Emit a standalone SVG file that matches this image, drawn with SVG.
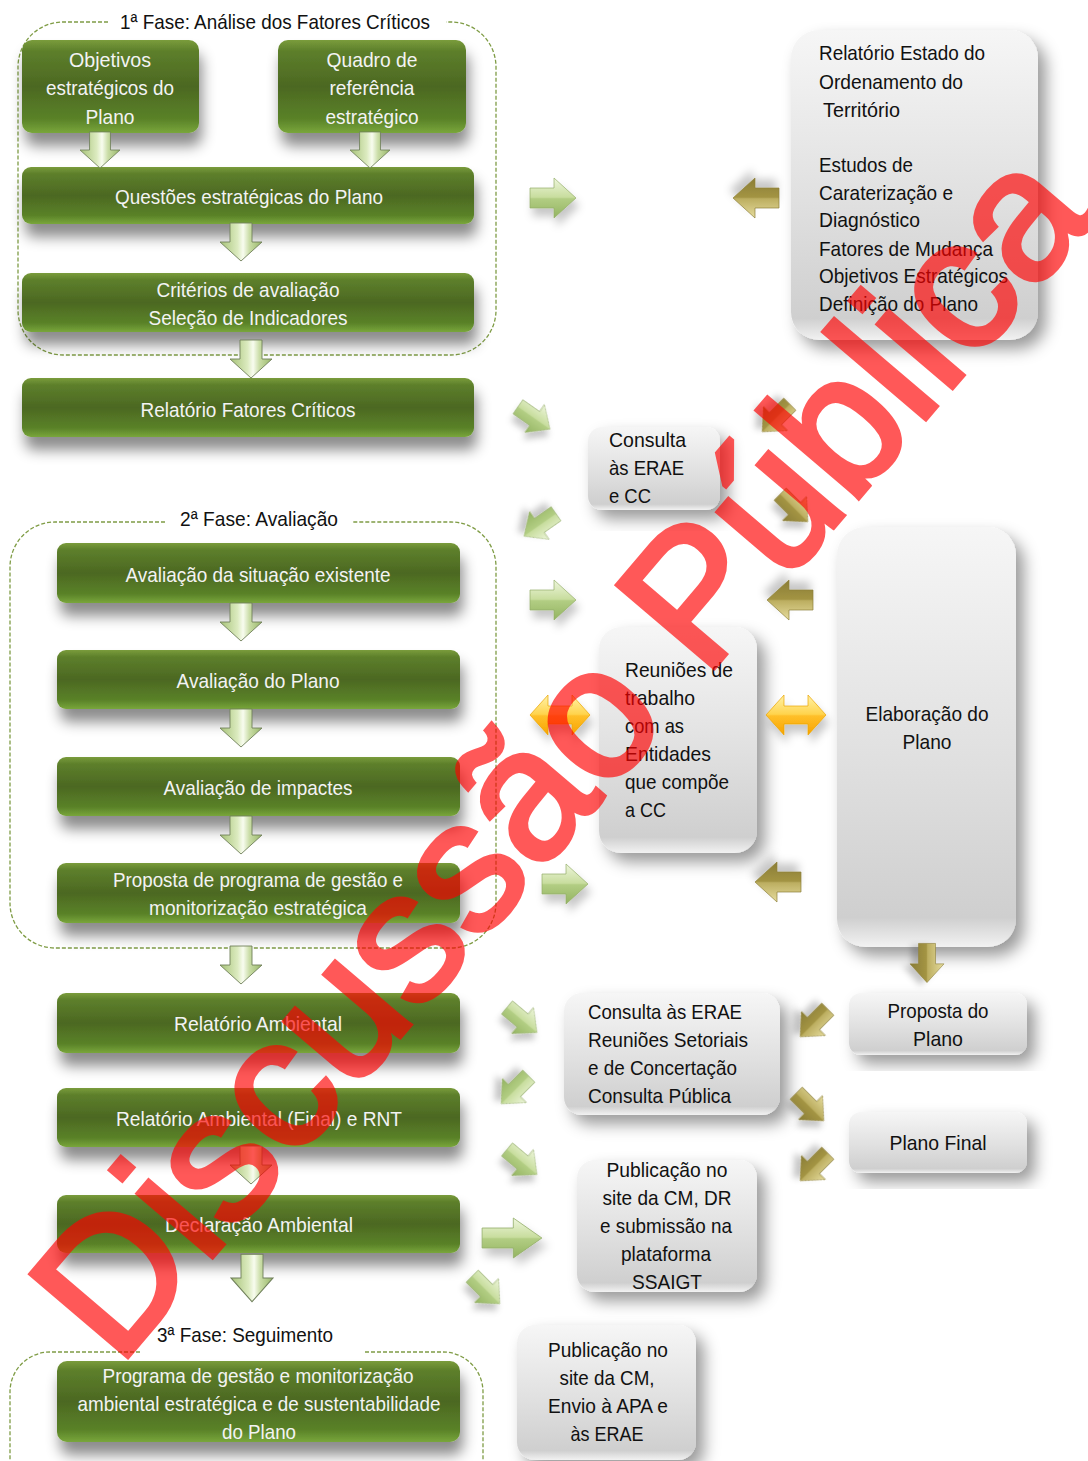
<svg xmlns="http://www.w3.org/2000/svg" xmlns:xlink="http://www.w3.org/1999/xlink" width="1088" height="1461" viewBox="0 0 1088 1461">
<style>
.t{font-family:"Liberation Sans Narrow","Arial Narrow","Liberation Sans",Arial,sans-serif;font-size:21px}
.w{fill:#f3f3f3;text-anchor:middle}
.k{fill:#111111}
.c{text-anchor:middle}
.dash{fill:none;stroke:#7f9c45;stroke-width:1.3;stroke-dasharray:4 2}
.gbx{fill:url(#gG);filter:url(#shG)}
.grb{fill:url(#grG);filter:url(#shR)}
.lg{fill:url(#lgG);stroke:#93ad68;stroke-width:0.7;filter:url(#shA)}
.kh{fill:url(#khG);stroke:#8c7f3a;stroke-width:0.7;filter:url(#shA)}
.ye{fill:url(#yeG);stroke:#e9a400;stroke-width:0.7;filter:url(#shA)}
.dn{fill:url(#dnG);stroke:#6f7f5a;stroke-width:0.9}
</style>
<defs>
<linearGradient id="gG" x1="0" y1="0" x2="0" y2="1">
<stop offset="0" stop-color="#7a9c3c"/>
<stop offset="0.12" stop-color="#5d7f2b"/>
<stop offset="0.5" stop-color="#4c6822"/>
<stop offset="0.85" stop-color="#5a8228"/>
<stop offset="1" stop-color="#79a63b"/>
</linearGradient>
<linearGradient id="grG" x1="0" y1="0" x2="0" y2="1">
<stop offset="0" stop-color="#f6f6f6"/>
<stop offset="0.55" stop-color="#e0e0e0"/>
<stop offset="0.93" stop-color="#cfcfcf"/>
<stop offset="1" stop-color="#f2f2f2"/>
</linearGradient>
<linearGradient id="lgG" x1="0" y1="0" x2="0" y2="1">
<stop offset="0" stop-color="#eef6dc"/>
<stop offset="0.48" stop-color="#c8dd9e"/>
<stop offset="0.52" stop-color="#b2cd83"/>
<stop offset="1" stop-color="#93b461"/>
</linearGradient>
<linearGradient id="khG" x1="0" y1="0" x2="0" y2="1">
<stop offset="0" stop-color="#e6dc9e"/>
<stop offset="0.48" stop-color="#bcae60"/>
<stop offset="0.52" stop-color="#a39443"/>
<stop offset="1" stop-color="#8a7d36"/>
</linearGradient>
<linearGradient id="yeG" x1="0" y1="0" x2="0" y2="1">
<stop offset="0" stop-color="#fff2a8"/>
<stop offset="0.48" stop-color="#ffd44d"/>
<stop offset="0.52" stop-color="#ffc02a"/>
<stop offset="1" stop-color="#f7a300"/>
</linearGradient>
<linearGradient id="dnG" x1="0" y1="0" x2="1" y2="0">
<stop offset="0" stop-color="#a6c277"/>
<stop offset="0.42" stop-color="#dcebc0"/>
<stop offset="0.55" stop-color="#f8fcef"/>
<stop offset="0.7" stop-color="#cadda7"/>
<stop offset="1" stop-color="#98b768"/>
</linearGradient>
<filter id="shG" x="-10%" y="-20%" width="125%" height="190%">
<feDropShadow dx="3" dy="13" stdDeviation="7" flood-color="#000" flood-opacity="0.45"/>
</filter>
<filter id="shR" x="-15%" y="-15%" width="140%" height="140%">
<feDropShadow dx="8" dy="9" stdDeviation="8" flood-color="#000" flood-opacity="0.4"/>
</filter>
<filter id="shA" x="-40%" y="-40%" width="180%" height="200%">
<feDropShadow dx="3" dy="8" stdDeviation="4" flood-color="#000" flood-opacity="0.22"/>
</filter>
<path id="ra" d="M-23,-10 H1 V-20 L23,0 L1,20 V10 H-23 Z"/>
<path id="da" d="M-11,-19 H11 V0 H21 L0,19 L-21,0 H-11 Z"/>
<path id="dbl" d="M-30,0 L-12,-20 V-9 H12 V-20 L30,0 L12,20 V9 H-12 V20 Z"/>
</defs>
<rect width="1088" height="1461" fill="#ffffff"/>

<g id="phase1">
<path class="dash" d="M108,22 H63 A45,45 0 0 0 18,67 V310 A45,45 0 0 0 63,355 H451 A45,45 0 0 0 496,310 V67 A45,45 0 0 0 451,22 H446"/>
<text class="t k c" x="275" y="29" textLength="310" lengthAdjust="spacingAndGlyphs">1ª Fase: Análise dos Fatores Críticos</text>
</g>
<g id="phase2">
<path class="dash" d="M165,522 H55 A45,45 0 0 0 10,567 V903 A45,45 0 0 0 55,948 H451 A45,45 0 0 0 496,903 V567 A45,45 0 0 0 451,522 H353"/>
<text class="t k c" x="259" y="526" textLength="158" lengthAdjust="spacingAndGlyphs">2ª Fase: Avaliação</text>
</g>
<g id="phase3">
<path class="dash" d="M140,1352 H50 A40,40 0 0 0 10,1392 V1470 M365,1352 H443 A40,40 0 0 1 483,1392 V1470"/>
<text class="t k c" x="245" y="1342" textLength="176" lengthAdjust="spacingAndGlyphs">3ª Fase: Seguimento</text>
</g>

<g id="n-objetivos">
<rect class="gbx" x="22" y="40" width="177" height="93" rx="10"/>
<text class="t w" x="110" y="67" textLength="82" lengthAdjust="spacingAndGlyphs">Objetivos</text>
<text class="t w" x="110" y="95" textLength="128" lengthAdjust="spacingAndGlyphs">estratégicos do</text>
<text class="t w" x="110" y="124" textLength="49" lengthAdjust="spacingAndGlyphs">Plano</text>
</g>
<g id="n-quadro">
<rect class="gbx" x="278" y="40" width="188" height="93" rx="10"/>
<text class="t w" x="372" y="67" textLength="91" lengthAdjust="spacingAndGlyphs">Quadro de</text>
<text class="t w" x="372" y="95" textLength="85" lengthAdjust="spacingAndGlyphs">referência</text>
<text class="t w" x="372" y="124" textLength="93" lengthAdjust="spacingAndGlyphs">estratégico</text>
</g>
<g id="n-questoes">
<rect class="gbx" x="22" y="167" width="452" height="57" rx="9"/>
<text class="t w" x="249" y="204" textLength="268" lengthAdjust="spacingAndGlyphs">Questões estratégicas do Plano</text>
</g>
<g id="n-criterios">
<rect class="gbx" x="22" y="273" width="452" height="59" rx="9"/>
<text class="t w" x="248" y="297" textLength="183" lengthAdjust="spacingAndGlyphs">Critérios de avaliação</text>
<text class="t w" x="248" y="325" textLength="199" lengthAdjust="spacingAndGlyphs">Seleção de Indicadores</text>
</g>
<g id="n-relfc">
<rect class="gbx" x="22" y="378" width="452" height="59" rx="9"/>
<text class="t w" x="248" y="417" textLength="215" lengthAdjust="spacingAndGlyphs">Relatório Fatores Críticos</text>
</g>
<g id="n-avsit">
<rect class="gbx" x="57" y="543" width="403" height="60" rx="9"/>
<text class="t w" x="258" y="582" textLength="265" lengthAdjust="spacingAndGlyphs">Avaliação da situação existente</text>
</g>
<g id="n-avplano">
<rect class="gbx" x="57" y="650" width="403" height="59" rx="9"/>
<text class="t w" x="258" y="688" textLength="163" lengthAdjust="spacingAndGlyphs">Avaliação do Plano</text>
</g>
<g id="n-avimp">
<rect class="gbx" x="57" y="757" width="403" height="59" rx="9"/>
<text class="t w" x="258" y="795" textLength="189" lengthAdjust="spacingAndGlyphs">Avaliação de impactes</text>
</g>
<g id="n-proposta-prog">
<rect class="gbx" x="57" y="863" width="403" height="60" rx="9"/>
<text class="t w" x="258" y="887" textLength="290" lengthAdjust="spacingAndGlyphs">Proposta de programa de gestão e</text>
<text class="t w" x="258" y="915" textLength="218" lengthAdjust="spacingAndGlyphs">monitorização estratégica</text>
</g>
<g id="n-ra">
<rect class="gbx" x="57" y="993" width="403" height="60" rx="9"/>
<text class="t w" x="258" y="1031" textLength="168" lengthAdjust="spacingAndGlyphs">Relatório Ambiental</text>
</g>
<g id="n-rafinal">
<rect class="gbx" x="57" y="1088" width="403" height="59" rx="9"/>
<text class="t w" x="259" y="1126" textLength="286" lengthAdjust="spacingAndGlyphs">Relatório Ambiental (Final) e RNT</text>
</g>
<g id="n-da">
<rect class="gbx" x="57" y="1195" width="403" height="58" rx="9"/>
<text class="t w" x="259" y="1232" textLength="188" lengthAdjust="spacingAndGlyphs">Declaração Ambiental</text>
</g>
<g id="n-programa">
<rect class="gbx" x="57" y="1361" width="403" height="81" rx="10"/>
<text class="t w" x="258" y="1383" textLength="311" lengthAdjust="spacingAndGlyphs">Programa de gestão e monitorização</text>
<text class="t w" x="259" y="1411" textLength="363" lengthAdjust="spacingAndGlyphs">ambiental estratégica e de sustentabilidade</text>
<text class="t w" x="259" y="1439" textLength="74" lengthAdjust="spacingAndGlyphs">do Plano</text>
</g>

<g id="n-estado">
<rect class="grb" x="791" y="30" width="247" height="310" rx="28"/>
<text class="t k" x="819" y="60" textLength="166" lengthAdjust="spacingAndGlyphs">Relatório Estado do</text>
<text class="t k" x="819" y="89" textLength="144" lengthAdjust="spacingAndGlyphs">Ordenamento do</text>
<text class="t k" x="823" y="117" textLength="77" lengthAdjust="spacingAndGlyphs">Território</text>
<text class="t k" x="819" y="172" textLength="94" lengthAdjust="spacingAndGlyphs">Estudos de</text>
<text class="t k" x="819" y="200" textLength="134" lengthAdjust="spacingAndGlyphs">Caraterização e</text>
<text class="t k" x="819" y="227" textLength="101" lengthAdjust="spacingAndGlyphs">Diagnóstico</text>
<text class="t k" x="819" y="256" textLength="174" lengthAdjust="spacingAndGlyphs">Fatores de Mudança</text>
<text class="t k" x="819" y="283" textLength="189" lengthAdjust="spacingAndGlyphs">Objetivos Estratégicos</text>
<text class="t k" x="819" y="311" textLength="159" lengthAdjust="spacingAndGlyphs">Definição do Plano</text>
</g>
<g id="n-consulta-cc">
<rect class="grb" x="588" y="427" width="132" height="83" rx="14"/>
<text class="t k" x="609" y="447" textLength="77" lengthAdjust="spacingAndGlyphs">Consulta</text>
<text class="t k" x="609" y="475" textLength="75" lengthAdjust="spacingAndGlyphs">às ERAE</text>
<text class="t k" x="609" y="503" textLength="42" lengthAdjust="spacingAndGlyphs">e CC</text>
</g>
<g id="n-reunioes">
<rect class="grb" x="599" y="627" width="158" height="226" rx="22"/>
<text class="t k" x="625" y="677" textLength="108" lengthAdjust="spacingAndGlyphs">Reuniões de</text>
<text class="t k" x="625" y="705" textLength="70" lengthAdjust="spacingAndGlyphs">trabalho</text>
<text class="t k" x="625" y="733" textLength="59" lengthAdjust="spacingAndGlyphs">com as</text>
<text class="t k" x="625" y="761" textLength="86" lengthAdjust="spacingAndGlyphs">Entidades</text>
<text class="t k" x="625" y="789" textLength="104" lengthAdjust="spacingAndGlyphs">que compõe</text>
<text class="t k" x="625" y="817" textLength="41" lengthAdjust="spacingAndGlyphs">a CC</text>
</g>
<g id="n-elaboracao">
<rect class="grb" x="837" y="527" width="179" height="420" rx="28"/>
<text class="t k c" x="927" y="721" textLength="123" lengthAdjust="spacingAndGlyphs">Elaboração do</text>
<text class="t k c" x="927" y="749" textLength="49" lengthAdjust="spacingAndGlyphs">Plano</text>
</g>
<g id="n-consulta-pub">
<rect class="grb" x="564" y="993" width="216" height="122" rx="18"/>
<text class="t k" x="588" y="1019" textLength="154" lengthAdjust="spacingAndGlyphs">Consulta às ERAE</text>
<text class="t k" x="588" y="1047" textLength="160" lengthAdjust="spacingAndGlyphs">Reuniões Setoriais</text>
<text class="t k" x="588" y="1075" textLength="149" lengthAdjust="spacingAndGlyphs">e de Concertação</text>
<text class="t k" x="588" y="1103" textLength="143" lengthAdjust="spacingAndGlyphs">Consulta Pública</text>
</g>
<g id="n-proposta-plano">
<rect class="grb" x="849" y="993" width="178" height="62" rx="12"/>
<text class="t k c" x="938" y="1018" textLength="101" lengthAdjust="spacingAndGlyphs">Proposta do</text>
<text class="t k c" x="938" y="1046" textLength="50" lengthAdjust="spacingAndGlyphs">Plano</text>
</g>
<g id="n-plano-final">
<rect class="grb" x="849" y="1112" width="178" height="61" rx="12"/>
<text class="t k c" x="938" y="1150" textLength="97" lengthAdjust="spacingAndGlyphs">Plano Final</text>
</g>
<g id="n-pub-ssaigt">
<rect class="grb" x="577" y="1160" width="180" height="132" rx="18"/>
<text class="t k c" x="667" y="1177" textLength="121" lengthAdjust="spacingAndGlyphs">Publicação no</text>
<text class="t k c" x="667" y="1205" textLength="129" lengthAdjust="spacingAndGlyphs">site da CM, DR</text>
<text class="t k c" x="666" y="1233" textLength="132" lengthAdjust="spacingAndGlyphs">e submissão na</text>
<text class="t k c" x="666" y="1261" textLength="90" lengthAdjust="spacingAndGlyphs">plataforma</text>
<text class="t k c" x="667" y="1289" textLength="70" lengthAdjust="spacingAndGlyphs">SSAIGT</text>
</g>
<g id="n-pub-apa">
<rect class="grb" x="517" y="1325" width="179" height="135" rx="18"/>
<text class="t k c" x="608" y="1357" textLength="120" lengthAdjust="spacingAndGlyphs">Publicação no</text>
<text class="t k c" x="607" y="1385" textLength="95" lengthAdjust="spacingAndGlyphs">site da CM,</text>
<text class="t k c" x="608" y="1413" textLength="120" lengthAdjust="spacingAndGlyphs">Envio à APA  e</text>
<text class="t k c" x="607" y="1441" textLength="73" lengthAdjust="spacingAndGlyphs">às ERAE</text>
</g>

<g id="connectors">
<use href="#da" class="dn" transform="translate(100,150) scale(0.95)"/>
<use href="#da" class="dn" transform="translate(370,150) scale(0.95)"/>
<use href="#da" class="dn" transform="translate(241,242)"/>
<use href="#da" class="dn" transform="translate(251,359)"/>
<use href="#da" class="dn" transform="translate(241,622)"/>
<use href="#da" class="dn" transform="translate(241,728)"/>
<use href="#da" class="dn" transform="translate(241,835)"/>
<use href="#da" class="dn" transform="translate(241,965)"/>
<use href="#da" class="dn" transform="translate(251,1165)"/>
<use href="#da" class="dn" transform="translate(252,1278) scale(1,1.25)"/>

<use href="#ra" class="lg" transform="translate(553,198)"/>
<use href="#ra" class="lg" transform="translate(534,418) rotate(35) scale(0.85)"/>
<use href="#ra" class="lg" transform="translate(540,525) rotate(145) scale(0.85)"/>
<use href="#ra" class="lg" transform="translate(553,600)"/>
<use href="#ra" class="lg" transform="translate(565,884)"/>
<use href="#ra" class="lg" transform="translate(522,1020) rotate(40) scale(0.85)"/>
<use href="#ra" class="lg" transform="translate(515,1090) rotate(135) scale(0.85)"/>
<use href="#ra" class="lg" transform="translate(522,1162) rotate(40) scale(0.85)"/>
<use href="#ra" class="lg" transform="translate(512,1238) scale(1.3,1)"/>
<use href="#ra" class="lg" transform="translate(486,1290) rotate(45) scale(0.85)"/>

<use href="#ra" class="kh" transform="translate(756,198) rotate(180)"/>
<use href="#ra" class="kh" transform="translate(776,418) rotate(135) scale(0.85)"/>
<use href="#ra" class="kh" transform="translate(794,508) rotate(45) scale(0.85)"/>
<use href="#ra" class="kh" transform="translate(790,600) rotate(180)"/>
<use href="#ra" class="kh" transform="translate(778,882) rotate(180)"/>
<use href="#ra" class="kh" transform="translate(927,963) rotate(90) scale(0.85)"/>
<use href="#ra" class="kh" transform="translate(814,1023) rotate(135) scale(0.85)"/>
<use href="#ra" class="kh" transform="translate(810,1107) rotate(45) scale(0.85)"/>
<use href="#ra" class="kh" transform="translate(814,1167) rotate(135) scale(0.85)"/>

<use href="#dbl" class="ye" transform="translate(560,715)"/>
<use href="#dbl" class="ye" transform="translate(796,715)"/>
</g>

<g id="watermark" opacity="0.65">
<text transform="translate(118,1368) rotate(-49.6)" x="0" y="0" font-family="'Liberation Sans',Arial,sans-serif" font-size="185" fill="#ff0000" stroke="#ff0000" stroke-width="5">Discussão Pública</text>
</g>
</svg>
